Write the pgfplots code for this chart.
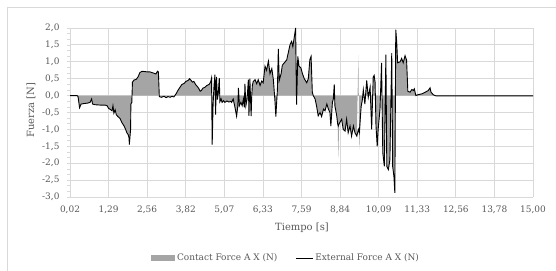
\documentclass[border=0pt]{standalone}
\usepackage{pgfplots}
\pgfplotsset{compat=1.18}
\usepackage{pgfplotstable}
\usepackage{fontspec}
\setmainfont{DejaVu Serif}
\definecolor{areagray}{HTML}{A5A5A5}
\definecolor{gridgray}{HTML}{D9D9D9}
\definecolor{textgray}{HTML}{595959}

\pgfplotstableread{
t c e
0.02 0 0
0.25 0 0
0.28 -0.03 -0.03
0.33 -0.36 -0.36
0.38 -0.25 -0.25
0.44 -0.24 -0.24
0.60 -0.22 -0.22
0.67 -0.20 -0.20
0.72 -0.10 -0.10
0.75 -0.25 -0.25
0.83 -0.27 -0.27
0.99 -0.28 -0.28
1.15 -0.28 -0.28
1.22 -0.30 -0.30
1.27 -0.38 -0.38
1.31 -0.40 -0.40
1.38 -0.45 -0.45
1.41 -0.30 -0.30
1.44 -0.52 -0.52
1.48 -0.42 -0.42
1.52 -0.57 -0.57
1.57 -0.62 -0.62
1.64 -0.68 -0.68
1.70 -0.80 -0.80
1.77 -0.90 -0.90
1.82 -1.00 -1.00
1.86 -1.10 -1.10
1.90 -1.15 -1.15
1.93 -1.25 -1.25
1.94 -1.45 -1.45
1.98 -1.00 -1.00
1.99 -0.25 -0.25
2.02 -0.20 -0.20
2.04 0.40 0.40
2.09 0.46 0.46
2.16 0.48 0.48
2.22 0.55 0.55
2.28 0.68 0.68
2.35 0.72 0.72
2.45 0.71 0.71
2.54 0.70 0.70
2.61 0.70 0.70
2.71 0.67 0.67
2.80 0.64 0.64
2.85 0.72 0.72
2.88 0.70 0.70
2.91 -0.03 -0.03
2.98 -0.05 -0.05
3.06 -0.02 -0.02
3.13 -0.06 -0.06
3.19 -0.03 -0.03
3.26 -0.05 -0.05
3.32 -0.02 -0.02
3.38 -0.04 -0.04
3.45 0.05 0.05
3.51 0.15 0.15
3.58 0.25 0.25
3.64 0.33 0.33
3.71 0.36 0.36
3.77 0.42 0.42
3.84 0.45 0.45
3.89 0.50 0.50
3.93 0.46 0.46
3.98 0.40 0.40
4.03 0.42 0.42
4.08 0.33 0.33
4.13 0.28 0.28
4.18 0.22 0.22
4.23 0.13 0.13
4.27 0.15 0.15
4.32 0.22 0.22
4.39 0.25 0.25
4.45 0.30 0.30
4.52 0.33 0.33
4.57 0.40 0.40
4.60 0.52 0.52
4.62 -1.45 -1.45
4.65 -0.25 -0.25
4.68 0.30 0.30
4.71 0.62 0.62
4.73 -0.56 -0.56
4.76 0.55 0.55
4.79 -0.12 -0.12
4.82 0.10 0.10
4.85 0.52 0.52
4.87 -0.18 -0.18
4.91 -0.10 -0.10
4.94 -0.20 -0.20
4.99 -0.15 -0.15
5.03 -0.20 -0.20
5.10 -0.16 -0.16
5.16 -0.19 -0.19
5.23 -0.17 -0.17
5.25 -0.20 -0.20
5.30 -0.10 -0.10
5.36 -0.36 -0.36
5.41 -0.61 -0.61
5.45 -0.30 -0.30
5.47 0.23 0.23
5.50 -0.30 -0.30
5.55 -0.20 -0.20
5.59 -0.30 -0.30
5.63 -0.10 -0.10
5.66 -0.35 -0.35
5.68 0.35 0.35
5.71 -0.30 -0.30
5.75 -0.10 -0.10
5.79 0.47 0.47
5.81 -0.60 -0.60
5.84 0.50 0.50
5.88 -0.61 -0.61
5.90 0.00 0.00
5.92 0.30 0.30
5.95 0.42 0.42
6.01 0.47 0.47
6.06 0.35 0.35
6.11 0.47 0.47
6.17 0.30 0.30
6.22 0.43 0.43
6.27 0.38 0.38
6.33 0.87 0.87
6.38 0.75 0.75
6.44 1.02 1.02
6.49 0.65 0.65
6.55 0.80 0.80
6.60 0.47 0.47
6.63 0.10 0.10
6.65 -0.14 -0.14
6.68 -0.62 -0.62
6.71 -0.14 -0.14
6.73 0.16 0.16
6.76 1.38 1.38
6.79 0.45 0.45
6.85 0.65 0.65
6.89 0.90 0.90
6.98 1.00 1.00
7.03 1.05 1.05
7.08 1.26 1.26
7.14 1.51 1.51
7.19 1.60 1.60
7.23 1.45 1.45
7.28 1.75 1.75
7.32 2.00 2.00
7.35 -0.27 -0.27
7.39 1.16 1.16
7.43 0.87 0.87
7.49 0.82 0.82
7.54 0.65 0.65
7.60 0.50 0.50
7.68 0.38 0.38
7.73 0.50 0.50
7.78 1.06 1.06
7.82 1.16 1.16
7.86 0.10 0.10
7.89 0.00 0.00
7.95 -0.10 -0.10
8.00 -0.32 -0.32
8.05 -0.60 -0.60
8.11 -0.50 -0.50
8.16 -0.62 -0.62
8.22 -0.40 -0.40
8.27 -0.45 -0.45
8.33 -0.25 -0.25
8.38 -0.40 -0.40
8.43 -0.50 -0.50
8.46 -0.90 -0.90
8.51 -0.20 -0.20
8.54 -0.10 -0.10
8.57 0.33 0.33
8.59 -0.30 -0.30
8.65 -0.60 -0.60
8.68 -0.83 -0.83
8.70 -1.84 -0.90
8.73 -0.83 -0.83
8.81 -0.70 -0.70
8.86 -1.00 -1.00
8.92 -1.05 -1.05
8.97 -0.70 -0.70
9.02 -1.10 -1.10
9.08 -0.90 -0.90
9.13 -1.20 -1.20
9.19 -0.90 -0.90
9.24 -1.10 -1.10
9.30 -1.20 -1.20
9.35 1.20 -1.00
9.38 -1.60 -1.10
9.44 -0.32 -0.32
9.48 -0.12 -0.12
9.51 0.17 0.17
9.56 -0.25 -0.25
9.62 0.45 0.45
9.67 -0.05 -0.05
9.73 0.25 0.25
9.78 -1.00 -1.00
9.83 0.55 0.55
9.86 0.60 0.60
9.89 0.40 0.40
9.92 -0.90 -0.90
9.96 -1.50 -1.50
9.99 -1.00 -1.00
10.05 -0.40 -0.40
10.10 0.97 0.97
10.14 -1.69 -1.69
10.19 -2.09 -2.09
10.24 1.21 1.21
10.27 -2.10 -2.10
10.32 -2.19 -2.19
10.37 -1.90 -1.90
10.43 1.26 1.26
10.46 -2.10 -2.10
10.50 -2.39 -2.39
10.53 -2.88 -2.88
10.56 1.95 1.95
10.59 1.60 1.60
10.62 0.97 0.97
10.70 1.00 1.00
10.75 1.10 1.10
10.80 0.97 0.97
10.86 1.18 1.18
10.91 1.05 1.05
10.95 0.13 0.13
11.02 0.10 0.10
11.08 0.18 0.18
11.13 0.15 0.15
11.16 0.20 0.20
11.21 0.00 0.00
11.29 0.03 0.03
11.40 0.05 0.05
11.51 0.10 0.10
11.61 0.15 0.15
11.67 0.23 0.23
11.70 0.10 0.10
11.77 0.03 0.03
11.83 0.00 0.00
11.88 -0.01 -0.01
15.00 -0.01 -0.01
}\forcedata

\begin{document}
\begin{tikzpicture}
\path[use as bounding box] (0bp,0bp) rectangle (556bp,271bp);
\draw[gridgray, line width=0.8bp] (7bp,0bp) -- (7bp,264bp) -- (556bp,264bp);
\begin{axis}[
  at={(70bp,74bp)}, anchor=south west,
  scale only axis, width=463bp, height=169bp,
  xmin=0.02, xmax=15, ymin=-3, ymax=2,
  xtick={0.02,1.268333,2.516667,3.765,5.013333,6.261667,7.51,8.758333,10.006667,11.255,12.503333,13.751667,15.0},
  xticklabels={{0,02},{1,29},{2,56},{3,82},{5,07},{6,33},{7,59},{8,84},{10,09},{11,33},{12,56},{13,78},{15,00}},
  ytick={-3,-2.5,...,2},
  minor y tick num=2,
  xmajorgrids=true, ymajorgrids=true,
  grid style={gridgray, line width=0.8bp},
  axis lines*=left,
  axis line style={gridgray, line width=0.8bp, -},
  tick align=outside,
  major tick length=3bp, minor tick length=3bp,
  every tick/.style={gridgray, line width=0.6bp},
  xtick style={draw=none},
  /pgf/number format/.cd, fixed, fixed zerofill, precision=1, use comma, assume math mode=true,
  /pgfplots/.cd,
  tick label style={font=\fontsize{9}{10}\selectfont, text=textgray},
  yticklabel style={xshift=-4bp},
  xticklabel style={yshift=-2bp},
  xlabel={Tiempo [s]},
  ylabel={Fuerza [N]},
  label style={font=\fontsize{10}{12}\selectfont, text=textgray},
  xlabel style={at={(axis description cs:0.501,-0.183)}, anchor=center},
  ylabel style={at={(axis description cs:-0.0842,0.515)}, anchor=center},
  legend style={at={(axis description cs:0.4665,-0.361)}, anchor=center, draw=none, fill=none,
    font=\fontsize{9}{10}\selectfont, text=textgray,
    /tikz/every odd column/.append style={column sep=0bp},
    /tikz/every even column/.append style={column sep=16bp},
    nodes={inner xsep=2bp}},
  legend columns=2,
  legend cell align=left,
]
\addplot[fill=areagray, draw=none,
  legend image code/.code={\fill[areagray] (0bp,-3bp) rectangle (24bp,3bp);}]
  table[x=t, y=c]{\forcedata} \closedcycle;
\addlegendentry{Contact Force A X (N)}
\addplot[black, line width=0.9bp,
  legend image code/.code={\draw[black, line width=0.8bp] (0bp,0bp) -- (17bp,0bp);}]
  table[x=t, y=e]{\forcedata};
\addlegendentry{External Force A X (N)}
\end{axis}
\end{tikzpicture}
\end{document}
